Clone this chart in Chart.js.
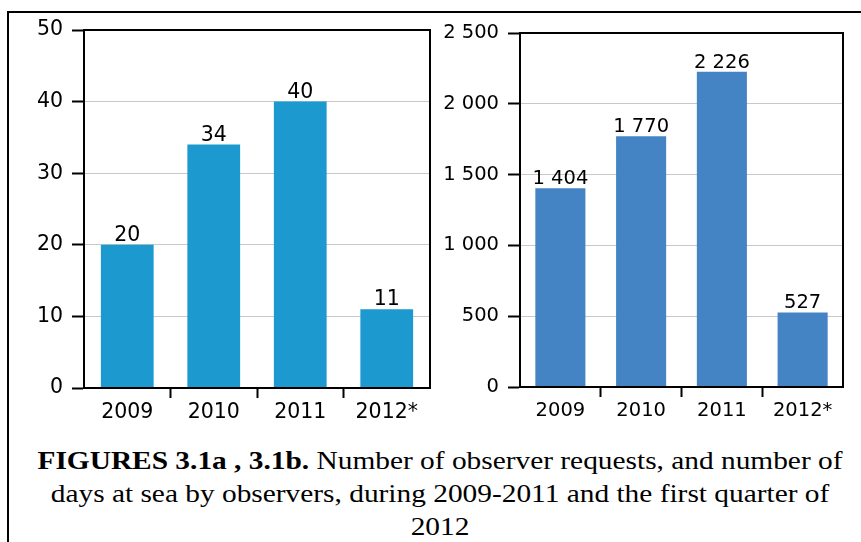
<!DOCTYPE html>
<html>
<head>
<meta charset="utf-8">
<script src="https://cdn.jsdelivr.net/npm/chart.js@4/dist/chart.umd.min.js"></script>
<style>
  html, body { margin: 0; padding: 0; background: #fff; width: 861px; height: 542px; overflow: hidden; }
  #frame { position: absolute; left: 7px; top: 11px; width: 900px; height: 600px; border-top: 2px solid #000; border-left: 2px solid #000; }
  #wrapA { position: absolute; left: 0; top: 0; width: 440px; height: 432px; }
  #wrapB { position: absolute; left: 440px; top: 0; width: 421px; height: 432px; }
  #caption { position: absolute; left: 0px; top: 444px; width: 880px; text-align: center;
    font-family: "Liberation Serif", "Times New Roman", serif; font-size: 25px; line-height: 33px; color: #000;
    transform-origin: 440px 0; white-space: nowrap; }
  #caption b { font-weight: bold; }
</style>
</head>
<body>
<div id="frame"></div>
<div id="wrapA"><canvas id="chartA" width="440" height="432"></canvas></div>
<div id="wrapB"><canvas id="chartB" width="421" height="432"></canvas></div>
<div id="caption"><span id="line1"><b>FIGURES 3.1a , 3.1b.</b> Number of observer requests, and number of</span><br>days at sea by observers, during 2009-2011 and the first quarter of<br>2012</div>
<script>
const categories = ["2009", "2010", "2011", "2012*"];
const requests = [20, 34, 40, 11];
const daysAtSea = [1404, 1770, 2226, 527];
const ticksA = [0, 10, 20, 30, 40, 50];
const ticksB = [0, 500, 1000, 1500, 2000, 2500];

// caption is horizontally stretched in the reference; fit line 1 to its width
(function () {
  const cap = document.getElementById("caption");
  const w = document.getElementById("line1").getBoundingClientRect().width;
  cap.style.transform = "scaleX(" + (805 / w) + ")";
})();

function fmt(v) {
  return String(v).replace(/\B(?=(\d{3})+(?!\d))/g, " ");
}

const framePlugin = {
  id: "frameBox",
  afterDraw(chart) {
    const a = chart.chartArea, c = chart.ctx;
    c.save();
    c.strokeStyle = "#000";
    c.lineWidth = 2;
    c.strokeRect(a.left, a.top, a.right - a.left, a.bottom - a.top);
    c.restore();
  }
};

const labelPlugin = {
  id: "valueLabels",
  afterDatasetsDraw(chart) {
    const c = chart.ctx;
    const meta = chart.getDatasetMeta(0);
    const data = chart.data.datasets[0].data;
    const f = chart.options.plugins.valueLabels.font;
    c.save();
    c.font = f.size + "px " + f.family;
    c.fillStyle = "#000";
    c.textAlign = "center";
    c.textBaseline = "alphabetic";
    meta.data.forEach((bar, i) => {
      c.fillText(fmt(data[i]), bar.x, bar.y - 4);
    });
    c.restore();
  }
};

function makeChart(id, values, ticks, color, barPct, yWidth, xHeight, pad, font) {
  return new Chart(document.getElementById(id), {
    type: "bar",
    data: {
      labels: categories,
      datasets: [{ data: values, backgroundColor: color, borderWidth: 0,
        categoryPercentage: 1.0, barPercentage: barPct }]
    },
    options: {
      responsive: false,
      animation: false,
      events: [],
      layout: { padding: pad },
      plugins: { legend: { display: false }, tooltip: { enabled: false }, valueLabels: { font: font } },
      scales: {
        x: {
          offset: true,
          grid: {
            offset: true,
            drawOnChartArea: false,
            drawTicks: true,
            tickLength: 10,
            tickWidth: 2,
            tickColor: (ctx) => (ctx.index >= 1 ? "#000" : "rgba(0,0,0,0)")
          },
          border: { display: true, color: "#000", width: 2 },
          ticks: { color: "#000", font: font, padding: 2, maxRotation: 0, autoSkip: false },
          afterFit: (s) => { s.height = xHeight; }
        },
        y: {
          min: ticks[0],
          max: ticks[ticks.length - 1],
          afterBuildTicks: (s) => { s.ticks = ticks.map(v => ({ value: v })); },
          grid: {
            color: "#c8c8c8",
            lineWidth: 1,
            drawTicks: true,
            tickLength: 12,
            tickWidth: 2,
            tickColor: "#000"
          },
          border: { display: true, color: "#000", width: 2 },
          ticks: { color: "#000", font: font, padding: 9, callback: (v) => fmt(v) },
          afterFit: (s) => { s.width = yWidth; }
        }
      }
    },
    plugins: [labelPlugin, framePlugin]
  });
}

makeChart("chartA", requests, ticksA, "#1c99ce", 0.61, 84, 44, { top: 30, right: 10, left: 0, bottom: 0 },
  { family: "DejaVu Sans", size: 20.5 });
makeChart("chartB", daysAtSea, ticksB, "#4483c4", 0.62, 80, 45, { top: 33, right: 18, left: 0, bottom: 0 },
  { family: "DejaVu Sans", size: 19.5 });
</script>
</body>
</html>
